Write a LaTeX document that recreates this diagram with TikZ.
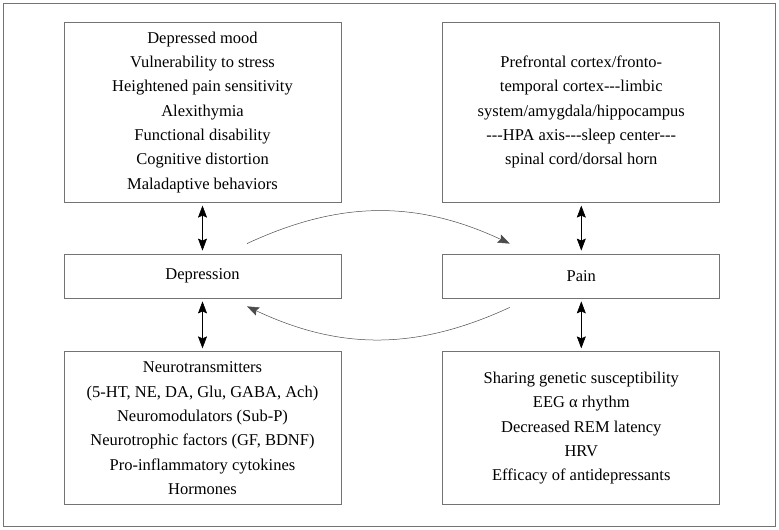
\documentclass[tikz,border=0pt]{standalone}
\usepackage{fontspec}
\setmainfont{Liberation Serif}
\usetikzlibrary{positioning}
\usetikzlibrary{arrows.meta}

\newcommand{\dashes}{-{}-{}-}

\begin{document}
\begin{tikzpicture}[x=1pt, y=1pt,
  box/.style={draw=black!55, line width=0.8pt, minimum width=277pt, align=center, inner sep=0pt,
    font=\fontsize{16.5}{24.3}\selectfont},
  link/.style={{Stealth[length=12pt,width=9pt,inset=2pt]}-{Stealth[length=12pt,width=9pt,inset=2pt]},
    line width=0.6pt, shorten >=3pt, shorten <=3pt},
  cycle/.style={-{Stealth[length=12pt,width=9pt,inset=2pt]}, draw=black!70, line width=0.5pt, bend left=25}]

\useasboundingbox (0,0) rectangle (779,530);
\draw[black!55, line width=0.8pt] (3,4) rectangle (775,527);

\node[box, minimum height=44pt] (dep) at (202.5,254) {Depression};
\node[box, minimum height=44pt, right=101pt of dep] (pain) {Pain};

\node[box, minimum height=180pt, above=51pt of dep] (feat) {Depressed mood\\Vulnerability to stress\\Heightened pain sensitivity\\Alexithymia\\Functional disability\\Cognitive distortion\\Maladaptive behaviors};
\node[box, minimum height=180pt, above=51pt of pain] (brain) {Prefrontal cortex/fronto-\\temporal cortex\dashes limbic\\system/amygdala/hippocampus\\\dashes HPA axis\dashes sleep center\dashes\\spinal cord/dorsal horn};

\node[box, minimum height=153pt, below=53pt of dep] (bio) {Neurotransmitters\\(5-HT, NE, DA, Glu, GABA, Ach)\\Neuromodulators (Sub-P)\\Neurotrophic factors (GF, BDNF)\\Pro-inflammatory cytokines\\Hormones};
\node[box, minimum height=153pt, below=53pt of pain] (share) {Sharing genetic susceptibility\\EEG α rhythm\\Decreased REM latency\\HRV\\Efficacy of antidepressants};

\draw[link] (feat) -- (dep);
\draw[link] (dep) -- (bio);
\draw[link] (brain) -- (pain);
\draw[link] (pain) -- (share);

% ends of the two curved arrows
\coordinate (d1) at ([shift={(44.5pt,10pt)}]dep.north);
\coordinate (p1) at ([shift={(-71.5pt,10pt)}]pain.north);
\coordinate (p2) at ([shift={(-71.5pt,-9pt)}]pain.south);
\coordinate (d2) at ([shift={(44.5pt,-8pt)}]dep.south);

\draw[cycle] (d1) to (p1);
\draw[cycle] (p2) to (d2);

\end{tikzpicture}
\end{document}
